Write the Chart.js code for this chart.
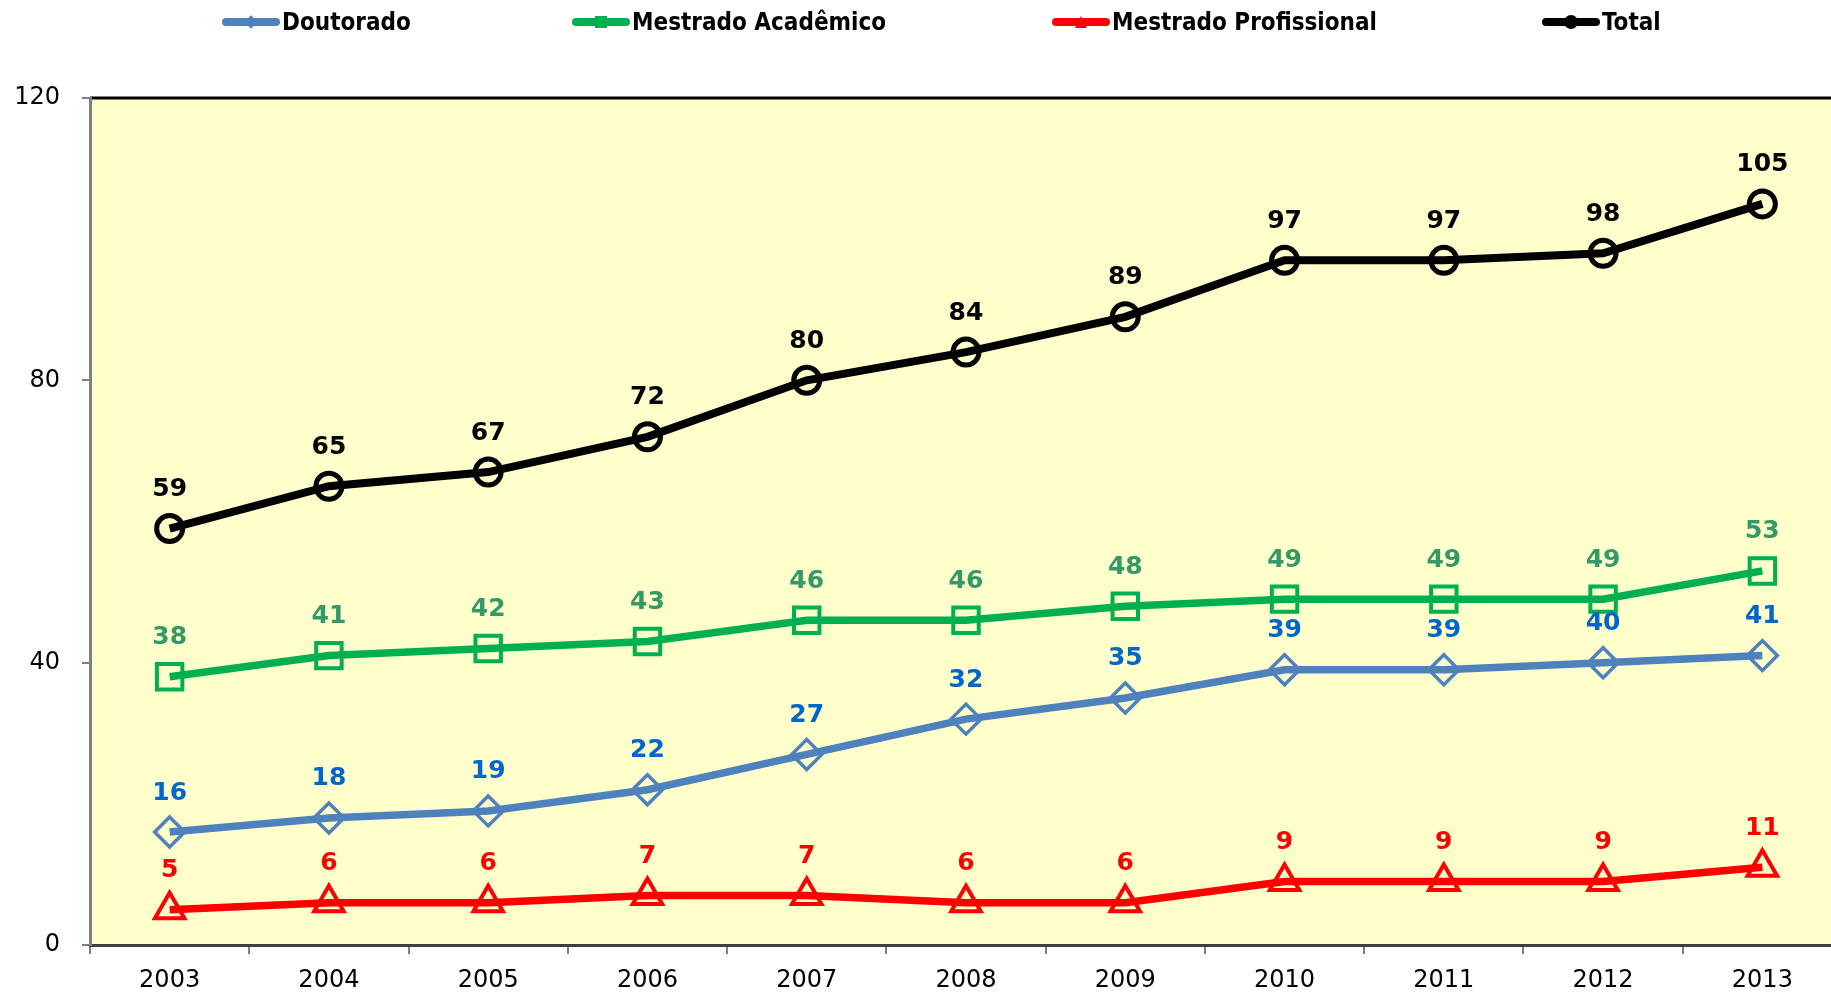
<!DOCTYPE html>
<html>
<head>
<meta charset="utf-8">
<script src="https://cdn.jsdelivr.net/npm/chart.js@4/dist/chart.umd.min.js"></script>
<style>
    html, body { margin: 0; padding: 0; background: #fff; overflow: hidden; }
    #wrap { position: relative; width: 1843px; height: 994px; }
    #legend { position: absolute; left: 0; top: 0; width: 1831px; height: 44px; }
    .item { position: absolute; top: 8px; display: flex; align-items: center; height: 28px; }
    .swatch { position: relative; width: 58px; height: 28px; }
    .swatch .ln { position: absolute; left: 0; top: 10px; width: 58px; height: 8px; border-radius: 4px; }
    .swatch .mk { position: absolute; left: 23px; top: 8px; width: 12px; height: 12px; }
    .item span { font-family: "DejaVu Sans Condensed", "DejaVu Sans", sans-serif; font-stretch: condensed; font-weight: bold; font-size: 24px; color: #000; margin-left: 2px; }
</style>
</head>
<body>
<div id="wrap">
    <canvas id="chart" width="1843" height="994"></canvas>
    <div id="legend"></div>
</div>
<script>
const years = ['2003', '2004', '2005', '2006', '2007', '2008', '2009', '2010', '2011', '2012', '2013'];
const doutorado = [16, 18, 19, 22, 27, 32, 35, 39, 39, 40, 41];
const mestradoAcademico = [38, 41, 42, 43, 46, 46, 48, 49, 49, 49, 53];
const mestradoProfissional = [5, 6, 6, 7, 7, 6, 6, 9, 9, 9, 11];
const total = [59, 65, 67, 72, 80, 84, 89, 97, 97, 98, 105];
const yTicks = [0, 40, 80, 120];

// legend item left positions (layout only)
const legendLeft = [222, 572, 1052, 1542];

const series = [
    { label: 'Doutorado', data: doutorado, color: '#4F81BD', text: '#0066CC', style: 'rectRot', r: 15, bw: 3.5, lw: 7.5 },
    { label: 'Mestrado Acadêmico', data: mestradoAcademico, color: '#00B050', text: '#339966', style: 'rect', r: 18, bw: 4, lw: 7.5 },
    { label: 'Mestrado Profissional', data: mestradoProfissional, color: '#FF0000', text: '#FF0000', style: 'triangle', r: 17, bw: 4, lw: 7.5 },
    { label: 'Total', data: total, color: '#000000', text: '#000000', style: 'circle', r: 13, bw: 5, lw: 8 }
];

const plotBg = {
    id: 'plotBg',
    beforeDraw(chart) {
        const { ctx, chartArea: a } = chart;
        ctx.save();
        ctx.fillStyle = '#FFFFCC';
        ctx.fillRect(a.left, a.top, a.right - a.left, a.bottom - a.top);
        ctx.strokeStyle = '#000';
        ctx.lineWidth = 3;
        ctx.beginPath();
        ctx.moveTo(a.left, a.top);
        ctx.lineTo(a.right, a.top);
        ctx.stroke();
        ctx.restore();
    }
};

const valueLabels = {
    id: 'valueLabels',
    afterDatasetsDraw(chart) {
        const ctx = chart.ctx;
        ctx.save();
        ctx.font = 'bold 25px "DejaVu Sans"';
        ctx.textAlign = 'center';
        ctx.textBaseline = 'middle';
        chart.data.datasets.forEach((ds, i) => {
            const meta = chart.getDatasetMeta(i);
            ctx.fillStyle = series[i].text;
            meta.data.forEach((pt, j) => {
                ctx.fillText(String(ds.data[j]), pt.x, pt.y - 39);
            });
        });
        ctx.restore();
    }
};

const ctx = document.getElementById('chart').getContext('2d');
new Chart(ctx, {
    type: 'line',
    data: {
        labels: years,
        datasets: series.map(s => ({
            label: s.label,
            data: s.data,
            borderColor: s.color,
            backgroundColor: 'rgba(0,0,0,0)',
            borderWidth: s.lw,
            pointStyle: s.style,
            pointRadius: s.r,
            pointBorderWidth: s.bw,
            pointBorderColor: s.color,
            pointBackgroundColor: 'rgba(0,0,0,0)',
            tension: 0,
            fill: false
        }))
    },
    options: {
        responsive: false,
        animation: false,
        layout: { autoPadding: false, padding: { top: 98, right: 1, left: 0, bottom: 0 } },
        plugins: {
            legend: { display: false },
            tooltip: { enabled: false }
        },
        scales: {
            x: {
                offset: true,
                grid: { offset: true, drawOnChartArea: false, tickLength: 9, color: '#808080', lineWidth: 2 },
                border: { color: '#404040', width: 3 },
                ticks: { color: '#000', font: { family: 'DejaVu Sans', size: 24 }, padding: 12, maxRotation: 0 },
                afterFit: s => { s.height = 49; s.paddingLeft = 0; s.paddingRight = 0; }
            },
            y: {
                min: 0,
                max: 120,
                afterBuildTicks: s => { s.ticks = yTicks.map(v => ({ value: v })); },
                grid: { drawOnChartArea: false, tickLength: 8, color: '#808080', lineWidth: 2 },
                border: { color: '#808080', width: 3 },
                ticks: { color: '#000', font: { family: 'DejaVu Sans', size: 24 }, padding: 22 },
                afterFit: s => { s.width = 90; }
            }
        }
    },
    plugins: [plotBg, valueLabels]
});

// html legend built from the series
const legend = document.getElementById('legend');
series.forEach((s, i) => {
    const item = document.createElement('div');
    item.className = 'item';
    item.style.left = legendLeft[i] + 'px';
    const sw = document.createElement('div');
    sw.className = 'swatch';
    const ln = document.createElement('div');
    ln.className = 'ln';
    ln.style.background = s.color;
    const mk = document.createElement('div');
    mk.className = 'mk';
    mk.style.background = s.color;
    if (s.style === 'rectRot') { mk.style.transform = 'rotate(45deg) scale(0.8)'; }
    if (s.style === 'circle') { mk.style.borderRadius = '50%'; mk.style.width = '14px'; mk.style.height = '14px'; mk.style.left = '22px'; mk.style.top = '7px'; }
    if (s.style === 'triangle') { mk.style.clipPath = 'polygon(50% 0, 100% 100%, 0 100%)'; mk.style.top = '8px'; }
    sw.appendChild(ln);
    sw.appendChild(mk);
    const t = document.createElement('span');
    t.textContent = s.label;
    item.appendChild(sw);
    item.appendChild(t);
    legend.appendChild(item);
});
</script>
</body>
</html>
